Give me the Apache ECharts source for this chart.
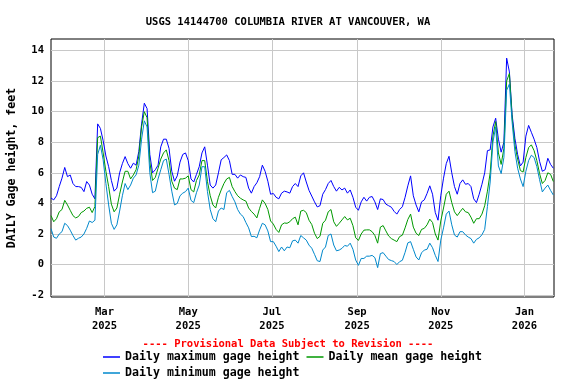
<!DOCTYPE html>
<html>
<head>
<meta charset="utf-8">
<script src="https://cdn.jsdelivr.net/npm/echarts@6/dist/echarts.min.js"></script>
<style>
html,body{margin:0;padding:0;background:#fff;}
#chart{width:576px;height:384px;}
</style>
</head>
<body>
<div id="chart"></div>
<script>
// Daily values sampled every 2 days starting 2025-01-21
const startDate = Date.UTC(2025, 0, 21);
const stepDays = 2;

const maxHeight = [
4.35,4.23,4.5,5.1,5.65,6.35,5.75,5.86,5.3,5.1,5.1,5.05,4.77,5.43,5.2,4.6,4.3,9.2,8.9,8.1,7.1,6.4,5.5,4.8,5.0,6.0,6.6,7.06,6.6,6.3,6.63,
6.5,7.4,9.2,10.55,10.2,7.2,6.0,6.2,6.5,7.7,8.2,8.2,7.6,6.1,5.45,5.8,6.7,7.2,7.3,6.8,5.6,5.4,5.9,6.4,7.3,7.7,6.5,5.2,5.0,5.2,6.0,
6.85,7.0,7.17,6.8,5.9,5.9,5.65,5.86,5.75,5.7,5.0,4.67,5.1,5.35,5.75,6.5,6.1,5.45,4.6,4.65,4.4,4.3,4.67,4.8,4.75,4.67,5.1,5.3,5.1,5.8,6.0,
5.4,4.85,4.48,4.1,3.77,3.85,4.6,4.9,5.3,5.5,5.1,4.8,5.05,4.88,5.0,4.67,4.88,4.4,3.75,3.55,4.1,4.4,4.15,4.4,4.45,4.1,3.6,4.3,4.25,3.95,
3.85,3.75,3.48,3.3,3.6,3.78,4.4,5.15,5.8,4.5,3.9,3.45,4.1,4.23,4.65,5.15,4.6,3.4,2.9,4.5,5.65,6.6,7.08,6.0,5.1,4.6,5.3,5.54,5.25,5.3,5.1,
4.3,4.05,4.6,5.25,6.0,7.45,7.5,9.0,9.57,8.2,7.35,8.0,13.5,12.6,9.8,8.26,7.2,6.45,6.7,8.4,9.1,8.65,8.2,7.65,6.75,6.1,6.2,6.95,6.55,6.3
];

const meanHeight = [
3.2,2.8,3.0,3.45,3.6,4.2,3.9,3.55,3.2,3.05,3.14,3.4,3.5,3.68,3.75,3.4,3.8,8.3,8.4,7.3,6.1,5.1,3.95,3.45,3.7,4.6,5.4,6.1,6.1,5.6,5.86,
6.2,7.1,9.0,10.0,9.6,6.7,5.5,5.7,6.3,6.9,7.3,7.5,6.8,5.45,5.0,4.9,5.6,5.6,5.65,5.8,4.9,4.75,5.5,5.86,6.8,6.8,5.43,4.5,3.9,3.7,4.4,
4.88,5.3,5.6,5.7,5.1,4.77,4.5,4.34,4.23,4.15,3.7,3.47,3.3,3.05,3.68,4.23,4.0,3.6,2.85,2.65,2.3,2.1,2.6,2.72,2.7,2.8,3.0,3.1,2.6,3.5,3.55,
3.4,2.9,2.62,2.05,1.7,1.85,2.7,2.9,3.45,3.6,2.8,2.5,2.7,2.92,3.14,2.92,3.03,2.55,1.75,1.58,2.0,2.25,2.27,2.27,2.15,1.9,1.4,2.45,2.55,2.2,
1.87,1.7,1.6,1.5,1.83,1.92,2.4,2.95,3.3,2.45,2.05,1.9,2.3,2.37,2.6,2.97,2.75,2.0,1.6,2.85,3.7,4.6,4.8,4.05,3.45,3.2,3.45,3.68,3.45,3.4,3.1,
2.7,3.0,3.0,3.3,3.85,4.8,6.0,8.4,9.35,7.3,6.55,7.6,12.0,12.5,9.6,7.83,6.9,6.15,6.05,7.0,7.65,7.83,7.45,6.8,5.95,5.3,5.5,6.0,5.9,5.43
];

const minHeight = [
2.35,1.8,1.72,2.0,2.15,2.7,2.55,2.25,1.9,1.6,1.72,1.8,2.0,2.37,2.85,2.75,2.9,7.2,7.8,6.85,5.3,3.9,2.7,2.3,2.6,3.5,4.5,5.3,4.9,5.2,5.65,
5.86,6.5,8.2,9.4,9.0,6.0,4.7,4.8,5.6,6.2,6.8,6.9,5.9,4.8,3.9,4.0,4.5,4.67,4.77,5.0,4.2,4.05,4.7,5.2,6.4,6.4,4.77,3.6,3.0,2.8,3.5,
3.7,3.6,4.7,4.85,4.45,4.1,3.6,3.3,3.14,2.75,2.4,1.83,1.85,1.75,2.27,2.7,2.6,2.2,1.5,1.5,1.2,0.85,1.15,0.9,1.15,1.1,1.55,1.6,1.4,1.9,1.75,
1.6,1.27,1.07,0.67,0.25,0.2,0.95,1.15,1.9,2.0,1.28,0.9,0.95,1.06,1.25,1.2,1.4,1.0,0.3,-0.05,0.4,0.4,0.55,0.55,0.6,0.45,-0.2,0.72,0.78,0.55,
0.33,0.26,0.2,0.0,0.19,0.28,0.8,1.42,1.5,1.0,0.5,0.3,0.77,0.95,1.0,1.4,1.1,0.6,0.2,1.6,2.4,3.3,3.5,2.6,1.93,1.8,2.15,2.15,1.94,1.8,1.7,
1.4,1.65,1.75,1.95,2.3,3.8,5.4,8.0,9.0,6.45,5.95,7.0,11.4,11.8,9.3,7.4,6.3,5.6,5.1,6.1,6.8,7.15,7.0,6.4,5.55,4.75,5.0,5.2,4.85,4.55
];

const xTickDates = ['2025-03-01','2025-05-01','2025-07-01','2025-09-01','2025-11-01','2026-01-01'];
const xTickLabels = ['Mar\n2025','May\n2025','Jul\n2025','Sep\n2025','Nov\n2025','Jan\n2026'];
const yTicks = [-2,0,2,4,6,8,10,12,14];

const seriesNames = ['Daily maximum gage height','Daily mean gage height','Daily minimum gage height'];
const seriesColors = ['#0000ff','#009900','#0088cc'];

const DAY = 86400000;
const dates = maxHeight.map((_, i) => startDate + i * stepDays * DAY);
const toTs = s => { const p = s.split('-').map(Number); return Date.UTC(p[0], p[1]-1, p[2]); };
const xTickTs = xTickDates.map(toTs);

const FONT = 'DejaVu Sans Mono';
const txt = {fontFamily: FONT, fontWeight: 'bold', fontSize: 10.5, color: '#000'};
const txtBig = Object.assign({}, txt, {fontSize: 11.6});

const chart = echarts.init(document.getElementById('chart'), null, {renderer: 'canvas'});
const mk = (arr, idx) => ({
  name: seriesNames[idx], type: 'line', showSymbol: false, symbol: 'none',
  data: arr.map((v, i) => [dates[i], v]),
  lineStyle: {width: 1, color: seriesColors[idx]}, itemStyle: {color: seriesColors[idx]},
  emphasis: {disabled: true}, silent: true
});

const legendItem = idx => ({name: seriesNames[idx], icon: 'rect',
  itemStyle: {color: seriesColors[idx], borderWidth: 0}});
const legendBase = {itemWidth: 17, itemHeight: 1.5, itemGap: 7,
  textStyle: Object.assign({}, txtBig), padding: 0};

chart.setOption({
  animation: false,
  backgroundColor: '#fff',
  title: [
    {text: 'USGS 14144700 COLUMBIA RIVER AT VANCOUVER, WA', left: 'center', top: 12,
     textStyle: Object.assign({}, txt)},
    {text: '---- Provisional Data Subject to Revision ----', left: 'center', top: 334,
     textStyle: Object.assign({}, txt, {color: '#ff0000'})}
  ],
  legend: [
    Object.assign({data: [legendItem(0), legendItem(1)], left: 103, top: 351}, legendBase),
    Object.assign({data: [legendItem(2)], left: 103, top: 367}, legendBase)
  ],
  grid: {left: 51, right: 22, top: 39, bottom: 87, show: true, borderColor: '#000', borderWidth: 1,
         containLabel: false, outerBoundsMode: 'none'},
  xAxis: {
    type: 'value', min: startDate, max: startDate + 366.5 * DAY,
    axisLine: {show: false},
    axisTick: {show: false, customValues: xTickTs},
    axisLabel: {customValues: xTickTs, margin: 8, lineHeight: 14, ...txt,
      formatter: v => { const i = xTickTs.indexOf(v); return i >= 0 ? xTickLabels[i] : ''; }},
    splitLine: {show: true, lineStyle: {color: '#c8c8c8', width: 1}}
  },
  yAxis: {
    type: 'value', min: -2.12, max: 14.75,
    name: 'DAILY Gage height, feet', nameLocation: 'middle', nameGap: 33,
    nameTextStyle: Object.assign({}, txtBig),
    axisLine: {show: false},
    axisTick: {show: false, customValues: yTicks},
    axisLabel: {customValues: yTicks, margin: 7, ...txt},
    splitLine: {show: true, lineStyle: {color: '#c8c8c8', width: 1}}
  },
  series: [mk(maxHeight, 0), mk(meanHeight, 1), mk(minHeight, 2)]
});
</script>
</body>
</html>
